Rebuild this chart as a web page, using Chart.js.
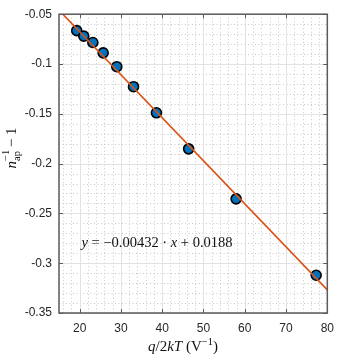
<!DOCTYPE html>
<html>
<head>
<meta charset="utf-8">
<script src="https://cdn.jsdelivr.net/npm/chart.js@4"></script>
<style>
  html, body { margin: 0; padding: 0; background: #fff; }
  #plot { display: block; }
</style>
</head>
<body>
<canvas id="plot" width="342" height="356"></canvas>
<script>
// measured points (q/2kT vs 1/n_ap - 1)
const xVals = [19.3, 21.0, 23.2, 25.7, 29.0, 33.05, 38.6, 46.4, 57.9, 77.3];
const yVals = [-0.0665, -0.0720, -0.0784, -0.0888, -0.1027, -0.1228, -0.1490, -0.1852, -0.2354, -0.3121];

// fitted line endpoints
const fitX = [15, 80];
const fitY = [-0.0460, -0.3268];

const xTicks = [20, 30, 40, 50, 60, 70, 80];
const xTickLabels = ['20', '30', '40', '50', '60', '70', '80'];
const yTicks = [-0.35, -0.3, -0.25, -0.2, -0.15, -0.1, -0.05];
const yTickLabels = ['-0.35', '-0.3', '-0.25', '-0.2', '-0.15', '-0.1', '-0.05'];
const xMinor = [16, 18, 22, 24, 26, 28, 32, 34, 36, 38, 42, 44, 46, 48, 52, 54, 56, 58, 62, 64, 66, 68, 72, 74, 76, 78];
const yMinor = [-0.34, -0.33, -0.32, -0.31, -0.29, -0.28, -0.27, -0.26, -0.24, -0.23, -0.22, -0.21,
  -0.19, -0.18, -0.17, -0.16, -0.14, -0.13, -0.12, -0.11, -0.09, -0.08, -0.07, -0.06];

const fitText = [
  { t: 'y', it: true }, { t: ' = \u22120.00432 \u00b7 ' }, { t: 'x', it: true }, { t: ' + 0.0188' }
];
const fitTextAt = { x: 20.46, y: -0.2795 };

const SERIF = '"Liberation Serif", "DejaVu Serif", serif';
const AXIS_COLOR = '#5a5a5a';

function drawRich(ctx, parts, x, y, size) {
  let total = 0;
  parts.forEach(p => {
    const s = p.size || size;
    ctx.font = (p.it ? 'italic ' : '') + s + 'px ' + SERIF;
    p.w = ctx.measureText(p.t).width;
    total += p.w;
  });
  let cx = x;
  parts.forEach(p => {
    const s = p.size || size;
    ctx.font = (p.it ? 'italic ' : '') + s + 'px ' + SERIF;
    ctx.fillText(p.t, cx, y + (p.dy || 0));
    cx += p.w;
  });
  return total;
}

function richWidth(ctx, parts, size) {
  let total = 0;
  parts.forEach(p => {
    ctx.font = (p.it ? 'italic ' : '') + (p.size || size) + 'px ' + SERIF;
    total += ctx.measureText(p.t).width;
  });
  return total;
}

const gridPlugin = {
  id: 'matlabGrid',
  beforeDatasetsDraw(chart) {
    const { ctx, chartArea: a, scales: { x, y } } = chart;
    ctx.save();
    // minor grid, dotted
    ctx.strokeStyle = '#c8c8c8';
    ctx.lineWidth = 1;
    ctx.setLineDash([1, 2.5]);
    xMinor.forEach(v => {
      const px = Math.round(x.getPixelForValue(v)) + 0.5;
      ctx.beginPath(); ctx.moveTo(px, a.top); ctx.lineTo(px, a.bottom); ctx.stroke();
    });
    yMinor.forEach(v => {
      const py = Math.round(y.getPixelForValue(v)) + 0.5;
      ctx.beginPath(); ctx.moveTo(a.left, py); ctx.lineTo(a.right, py); ctx.stroke();
    });
    // major grid
    ctx.setLineDash([]);
    ctx.strokeStyle = '#e2e2e2';
    xTicks.forEach(v => {
      const px = Math.round(x.getPixelForValue(v)) + 0.5;
      ctx.beginPath(); ctx.moveTo(px, a.top); ctx.lineTo(px, a.bottom); ctx.stroke();
    });
    yTicks.forEach(v => {
      const py = Math.round(y.getPixelForValue(v)) + 0.5;
      ctx.beginPath(); ctx.moveTo(a.left, py); ctx.lineTo(a.right, py); ctx.stroke();
    });
    ctx.restore();
  },
  afterDraw(chart) {
    const { ctx, chartArea: a, scales: { x, y } } = chart;
    ctx.save();
    // box
    ctx.strokeStyle = AXIS_COLOR;
    ctx.lineWidth = 1.5;
    ctx.strokeRect(a.left, a.top, a.right - a.left, a.bottom - a.top);
    // inward ticks on all four sides
    ctx.lineWidth = 1;
    const tl = 4;
    xTicks.forEach(v => {
      const px = Math.round(x.getPixelForValue(v)) + 0.5;
      ctx.beginPath();
      ctx.moveTo(px, a.bottom); ctx.lineTo(px, a.bottom - tl);
      ctx.moveTo(px, a.top); ctx.lineTo(px, a.top + tl);
      ctx.stroke();
    });
    yTicks.forEach(v => {
      const py = Math.round(y.getPixelForValue(v)) + 0.5;
      ctx.beginPath();
      ctx.moveTo(a.left, py); ctx.lineTo(a.left + tl, py);
      ctx.moveTo(a.right, py); ctx.lineTo(a.right - tl, py);
      ctx.stroke();
    });

    ctx.fillStyle = '#111';
    ctx.textBaseline = 'middle';
    // fit equation
    drawRich(ctx, fitText, x.getPixelForValue(fitTextAt.x), y.getPixelForValue(fitTextAt.y), 14.5);

    // x axis title
    ctx.textBaseline = 'alphabetic';
    const xParts = [
      { t: 'q', it: true }, { t: '/2' }, { t: 'kT', it: true }, { t: ' (V' },
      { t: '\u22121', size: 10.5, dy: -6 }, { t: ')' }
    ];
    const xw = richWidth(ctx, xParts, 15);
    drawRich(ctx, xParts, 183 - xw / 2, 351, 15);

    // y axis title, rotated
    const yParts = [
      { t: 'n', it: true }, { t: 'ap', size: 10.5, dy: 4 }, { t: ' \u2212 1' }
    ];
    ctx.translate(16, 148);
    ctx.rotate(-Math.PI / 2);
    const yw = richWidth(ctx, yParts, 15);
    const startX = -yw / 2;
    // superscript -1 above the subscript
    ctx.font = 'italic 15px ' + SERIF;
    const nW = ctx.measureText('n').width;
    drawRich(ctx, yParts, startX, 0, 15);
    ctx.font = '10.5px ' + SERIF;
    ctx.fillText('\u22121', startX + nW, -7);
    ctx.restore();
  }
};

const ctx = document.getElementById('plot');
new Chart(ctx, {
  type: 'scatter',
  data: {
    datasets: [
      {
        type: 'line',
        data: fitX.map((v, i) => ({ x: v, y: fitY[i] })),
        borderColor: '#D95319',
        borderWidth: 1.6,
        pointRadius: 0,
        fill: false,
        order: 0
      },
      {
        data: xVals.map((v, i) => ({ x: v, y: yVals[i] })),
        backgroundColor: '#0072BD',
        borderColor: '#000',
        borderWidth: 1.6,
        pointRadius: 5,
        order: 1
      }
    ]
  },
  options: {
    responsive: false,
    animation: false,
    layout: { padding: { left: 0, top: 4, right: 6, bottom: 0 } },
    plugins: { legend: { display: false }, tooltip: { enabled: false } },
    scales: {
      x: {
        type: 'linear',
        min: 15,
        max: 80,
        grid: { display: false, drawTicks: false },
        border: { display: false },
        afterBuildTicks: s => { s.ticks = xTicks.map(v => ({ value: v })); },
        afterFit: s => { s.height = 43; },
        ticks: {
          padding: 8,
          maxRotation: 0,
          color: '#262626',
          font: { family: '"Liberation Sans", Arial, sans-serif', size: 12 },
          callback: (v, i) => xTickLabels[i]
        }
      },
      y: {
        type: 'linear',
        min: -0.35,
        max: -0.05,
        grid: { display: false, drawTicks: false },
        border: { display: false },
        afterBuildTicks: s => { s.ticks = yTicks.map(v => ({ value: v })); },
        afterFit: s => { s.width = 59; },
        ticks: {
          padding: 7,
          color: '#262626',
          font: { family: '"Liberation Sans", Arial, sans-serif', size: 12 },
          callback: (v, i) => yTickLabels[i]
        }
      }
    }
  },
  plugins: [gridPlugin]
});
</script>
</body>
</html>
